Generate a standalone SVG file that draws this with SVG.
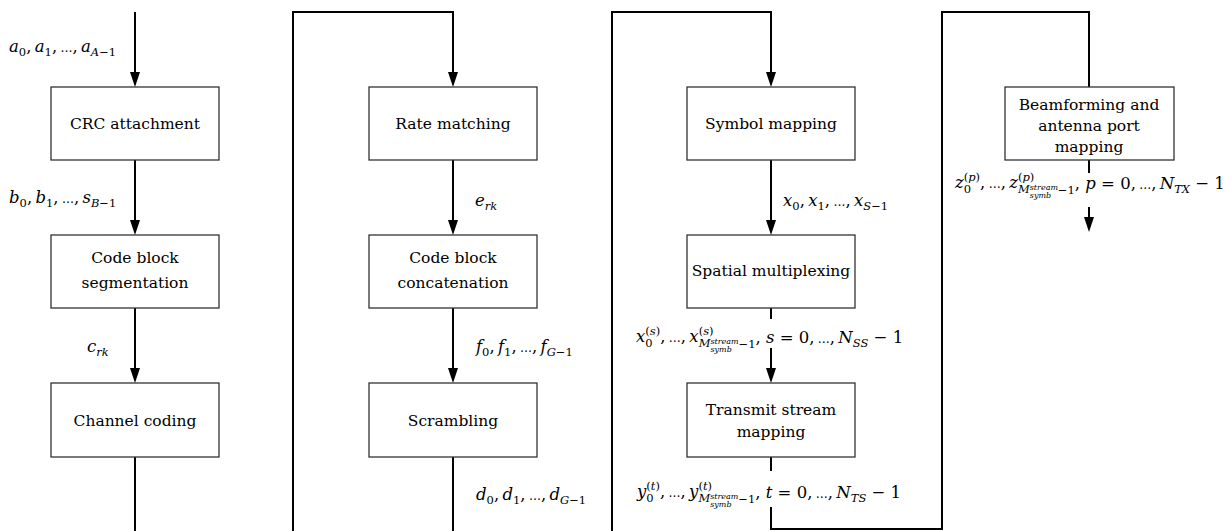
<svg xmlns="http://www.w3.org/2000/svg" width="1231" height="531" viewBox="0 0 1231 531">
<style>
.bx{fill:#fff;stroke:#333;stroke-width:1.3}
.t{font-family:"DejaVu Serif","Liberation Serif",serif;font-size:15.5px;text-anchor:middle;fill:#000}
.m{font-family:"DejaVu Serif","Liberation Serif",serif;font-size:16.5px;fill:#000}
.i{font-style:italic}
.sb{font-size:11.5px}
.ss{font-size:8px;font-style:italic}
.el{font-size:12px}
.c{fill:none;stroke:#000;stroke-width:2}
.a{marker-end:url(#ah)}
</style>
<defs>
<marker id="ah" viewBox="0 0 15 10" refX="7" refY="5" markerWidth="15" markerHeight="10" markerUnits="userSpaceOnUse" orient="auto">
<path d="M0,0 L15,5 L0,10 z" fill="#000"/>
</marker>
</defs>
<rect width="1231" height="531" fill="#fff"/>
<g id="connectors">
<path class="c a" d="M135,12 V79"/>
<path class="c a" d="M135,160 V227"/>
<path class="c a" d="M135,308 V375"/>
<path class="c" d="M135,457 V531"/>
<path class="c a" d="M293,531 V12 H453 V79"/>
<path class="c a" d="M453,160 V227"/>
<path class="c a" d="M453,308 V375"/>
<path class="c" d="M453,457 V531"/>
<path class="c a" d="M612,531 V12 H771 V79"/>
<path class="c a" d="M771,160 V227"/>
<path class="c" d="M771,308 V319"/>
<path class="c a" d="M771,348 V375"/>
<path class="c" d="M771,457 V471"/>
<path class="c" d="M771,507 V529 H942 V12 H1089 V87"/>
<path class="c" d="M1089,160 V173"/>
<path class="c a" d="M1089,207 V224"/>
</g>
<g id="labels">
<text class="m" x="9" y="52"><tspan class="i">a</tspan><tspan class="sb" dy="4">0</tspan><tspan dy="-4">,&#8201;</tspan><tspan class="i">a</tspan><tspan class="sb" dy="4">1</tspan><tspan dy="-4">,&#8201;</tspan><tspan class="el">…</tspan><tspan>,&#8201;</tspan><tspan class="i">a</tspan><tspan class="sb" dy="4"><tspan class="i">A</tspan>−1</tspan></text>
<text class="m" x="9" y="203"><tspan class="i">b</tspan><tspan class="sb" dy="4">0</tspan><tspan dy="-4">,&#8201;</tspan><tspan class="i">b</tspan><tspan class="sb" dy="4">1</tspan><tspan dy="-4">,&#8201;</tspan><tspan class="el">…</tspan><tspan>,&#8201;</tspan><tspan class="i">s</tspan><tspan class="sb" dy="4"><tspan class="i">B</tspan>−1</tspan></text>
<text class="m" x="87" y="352"><tspan class="i">c</tspan><tspan class="sb i" dy="4">rk</tspan></text>
<text class="m" x="475" y="206"><tspan class="i">e</tspan><tspan class="sb i" dy="4">rk</tspan></text>
<text class="m" x="476" y="352"><tspan class="i">f</tspan><tspan class="sb" dy="4">0</tspan><tspan dy="-4">,&#8201;</tspan><tspan class="i">f</tspan><tspan class="sb" dy="4">1</tspan><tspan dy="-4">,&#8201;</tspan><tspan class="el">…</tspan><tspan>,&#8201;</tspan><tspan class="i">f</tspan><tspan class="sb" dy="4"><tspan class="i">G</tspan>−1</tspan></text>
<text class="m" x="476" y="500"><tspan class="i">d</tspan><tspan class="sb" dy="4">0</tspan><tspan dy="-4">,&#8201;</tspan><tspan class="i">d</tspan><tspan class="sb" dy="4">1</tspan><tspan dy="-4">,&#8201;</tspan><tspan class="el">…</tspan><tspan>,&#8201;</tspan><tspan class="i">d</tspan><tspan class="sb" dy="4"><tspan class="i">G</tspan>−1</tspan></text>
<text class="m" x="783" y="206"><tspan class="i">x</tspan><tspan class="sb" dy="4">0</tspan><tspan dy="-4">,&#8201;</tspan><tspan class="i">x</tspan><tspan class="sb" dy="4">1</tspan><tspan dy="-4">,&#8201;</tspan><tspan class="el">…</tspan><tspan>,&#8201;</tspan><tspan class="i">x</tspan><tspan class="sb" dy="4"><tspan class="i">S</tspan>−1</tspan></text>
<text class="m" x="636" y="342"><tspan class="i">x</tspan><tspan class="sb" dy="-7.5">(<tspan class="i">s</tspan>)</tspan><tspan class="sb" dx="-14.9" dy="12">0</tspan><tspan dx="7.6" dy="-4.5">,&#8201;</tspan><tspan class="el">…</tspan><tspan>,&#8201;</tspan><tspan class="i">x</tspan><tspan class="sb" dy="-7.5">(<tspan class="i">s</tspan>)</tspan><tspan class="sb i" dx="-14.9" dy="12.5">M</tspan><tspan class="ss" dy="-3.5">stream</tspan><tspan class="ss" dx="-28.2" dy="8.5">symb</tspan><tspan class="sb" dx="6.7" dy="-4">−1</tspan><tspan dy="-5">, </tspan><tspan class="i">s</tspan><tspan> = 0,&#8201;</tspan><tspan class="el">…</tspan><tspan>,&#8201;</tspan><tspan class="i">N</tspan><tspan class="sb i" dy="4">SS</tspan><tspan dy="-4"> − 1</tspan></text>
<text class="m" x="637" y="497"><tspan class="i">y</tspan><tspan class="sb" dy="-7.5">(<tspan class="i">t</tspan>)</tspan><tspan class="sb" dx="-13.6" dy="12">0</tspan><tspan dx="6.3" dy="-4.5">,&#8201;</tspan><tspan class="el">…</tspan><tspan>,&#8201;</tspan><tspan class="i">y</tspan><tspan class="sb" dy="-7.5">(<tspan class="i">t</tspan>)</tspan><tspan class="sb i" dx="-13.6" dy="12.5">M</tspan><tspan class="ss" dy="-3.5">stream</tspan><tspan class="ss" dx="-28.2" dy="8.5">symb</tspan><tspan class="sb" dx="6.7" dy="-4">−1</tspan><tspan dy="-5">, </tspan><tspan class="i">t</tspan><tspan> = 0,&#8201;</tspan><tspan class="el">…</tspan><tspan>,&#8201;</tspan><tspan class="i">N</tspan><tspan class="sb i" dy="4">TS</tspan><tspan dy="-4"> − 1</tspan></text>
<text class="m" x="955" y="188"><tspan class="i">z</tspan><tspan class="sb" dy="-7.5">(<tspan class="i">p</tspan>)</tspan><tspan class="sb" dx="-16.3" dy="12">0</tspan><tspan dx="9" dy="-4.5">,&#8201;</tspan><tspan class="el">…</tspan><tspan>,&#8201;</tspan><tspan class="i">z</tspan><tspan class="sb" dy="-7.5">(<tspan class="i">p</tspan>)</tspan><tspan class="sb i" dx="-16.3" dy="12.5">M</tspan><tspan class="ss" dy="-3.5">stream</tspan><tspan class="ss" dx="-28.2" dy="8.5">symb</tspan><tspan class="sb" dx="6.7" dy="-4">−1</tspan><tspan dy="-5">, </tspan><tspan class="i">p</tspan><tspan> = 0,&#8201;</tspan><tspan class="el">…</tspan><tspan>,&#8201;</tspan><tspan class="i">N</tspan><tspan class="sb i" dy="4">TX</tspan><tspan dy="-4"> − 1</tspan></text>
</g>
<g id="crc"><rect class="bx" x="51" y="87" width="168" height="73"/><text class="t" x="135" y="129">CRC attachment</text></g>
<g id="cbs"><rect class="bx" x="51" y="235" width="168" height="73"/><text class="t" x="135" y="263">Code block</text><text class="t" x="135" y="288">segmentation</text></g>
<g id="chc"><rect class="bx" x="51" y="383" width="168" height="74"/><text class="t" x="135" y="426">Channel coding</text></g>
<g id="rm"><rect class="bx" x="369" y="87" width="168" height="73"/><text class="t" x="453" y="129">Rate matching</text></g>
<g id="cbc"><rect class="bx" x="369" y="235" width="168" height="73"/><text class="t" x="453" y="263">Code block</text><text class="t" x="453" y="288">concatenation</text></g>
<g id="scr"><rect class="bx" x="369" y="383" width="168" height="74"/><text class="t" x="453" y="426">Scrambling</text></g>
<g id="sym"><rect class="bx" x="687" y="87" width="168" height="73"/><text class="t" x="771" y="129">Symbol mapping</text></g>
<g id="spm"><rect class="bx" x="687" y="235" width="168" height="73"/><text class="t" x="771" y="276">Spatial multiplexing</text></g>
<g id="tsm"><rect class="bx" x="687" y="383" width="168" height="74"/><text class="t" x="771" y="415">Transmit stream</text><text class="t" x="771" y="437">mapping</text></g>
<g id="bf"><rect class="bx" x="1005" y="87" width="169" height="73"/><text class="t" x="1089" y="110">Beamforming and</text><text class="t" x="1089" y="131">antenna port</text><text class="t" x="1089" y="152">mapping</text></g>
</svg>
